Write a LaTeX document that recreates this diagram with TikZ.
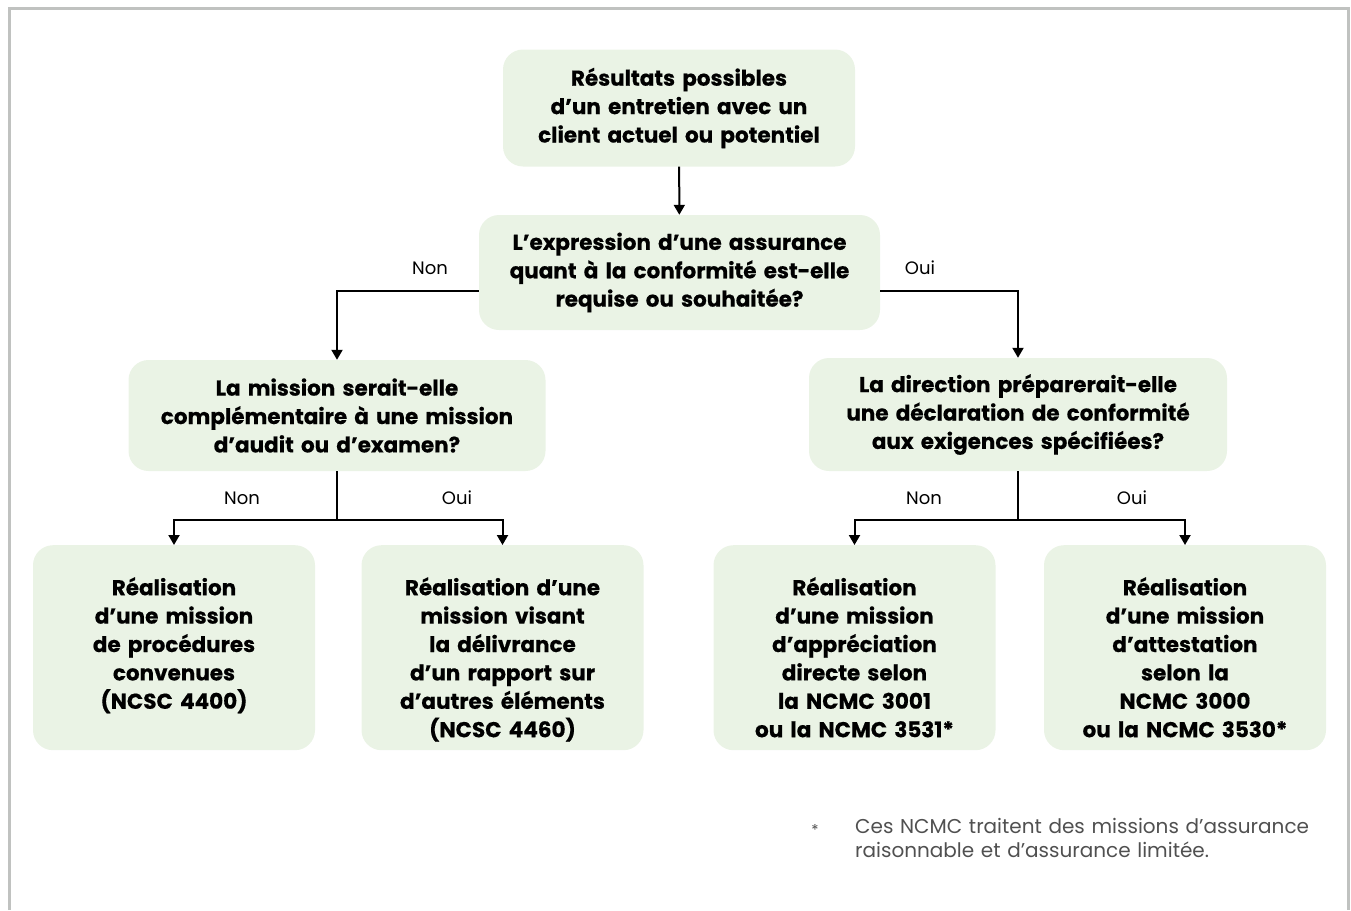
\documentclass[tikz,border=0pt]{standalone}
\usepackage{fontspec}
\setmainfont{Poppins}[BoldFeatures={FakeBold=0.5}]
\usetikzlibrary{arrows.meta,positioning}
\usepackage{xcolor}
\definecolor{boxGreen}{RGB}{234,243,229}
\definecolor{frameGrey}{RGB}{192,194,192}
\definecolor{noteGrey}{RGB}{80,80,80}

\begin{document}
\begin{tikzpicture}[x=1pt, y=-1pt,
    box/.style={fill=boxGreen, rounded corners=20pt, align=center, inner sep=0pt,
        font=\bfseries\fontsize{21.5}{28.4}\selectfont},
    leaf/.style={box, minimum width=282, text width=272, text height=50, text depth=155},
    arr/.style={line width=2pt, -{Triangle[width=11pt,length=10pt]}},
    lbl/.style={font=\fontsize{18}{20}\selectfont}]
    \newcommand\legy{290}
    \newcommand\fork{520}

    \useasboundingbox (0,0) rectangle (1351,910);
    % frame
    \draw[frameGrey, line width=3pt] (9.5,910) -- (9.5,8.5) -- (1348.5,8.5) -- (1348.5,910);

    \node[box, minimum width=352, minimum height=117, text width=345] (start) at (679,108)
        {Résultats possibles\\d’un entretien avec un\\client actuel ou potentiel};
    \node[box, minimum width=401, minimum height=115, text width=398] (quest) at (679.5,272.5)
        {L’expression d’une assurance\\quant à la conformité est-elle\\requise ou souhaitée?};
    \node[box, minimum width=417, minimum height=111, text width=412] (compl) at (337,415.5)
        {La mission serait-elle\\complémentaire à une mission\\d’audit ou d’examen?};
    \node[box, minimum width=418, minimum height=113, text width=412] (decl) at (1018,414.5)
        {La direction préparerait-elle\\une déclaration de conformité\\aux exigences spécifiées?};

    \node[leaf] (procs) at (174,545) [anchor=north]
        {Réalisation\\d’une mission\\de procédures\\convenues\\(NCSC 4400)};
    \node[leaf] (autres) at (502.5,545) [anchor=north]
        {Réalisation d’une\\mission visant\\la délivrance\\d’un rapport sur\\d’autres éléments\\(NCSC 4460)};
    \node[leaf] (directe) at (854.5,545) [anchor=north]
        {Réalisation\\d’une mission\\d’appréciation\\directe selon\\la NCMC 3001\\ou la NCMC 3531*};
    \node[leaf] (attest) at (1185,545) [anchor=north]
        {Réalisation\\d’une mission\\d’attestation\\selon la\\NCMC 3000\\ou la NCMC 3530*};

    % draw arrow
    \draw[arr] (start) -- (quest);
    \draw[arr] ([yshift=-18pt]quest.west) -| (compl.north);
    \draw[arr] ([yshift=-18pt]quest.east) -| (decl.north);
    \node[lbl] (nonA) at (430,268) {Non};
    \node[lbl] (ouiA) at (920,268) {Oui};

    \draw[line width=2pt] (compl.south) -- (compl.south |- 0,\fork) coordinate (cfork);
    \draw[arr] (cfork) -| (procs.north);
    \draw[arr] (cfork) -| (autres.north);
    \node[lbl] (nonB) at (242,498) {Non};
    \node[lbl] (ouiB) at (457,498) {Oui};

    \draw[line width=2pt] (decl.south) -- (decl.south |- 0,\fork) coordinate (dfork);
    \draw[arr] (dfork) -| (directe.north);
    \draw[arr] (dfork) -| (attest.north);
    \node[lbl] (nonC) at (924,498) {Non};
    \node[lbl] (ouiC) at (1132,498) {Oui};

    % footnote
    \node[lbl, text=noteGrey, anchor=north, font=\fontsize{15}{20}\selectfont] (star) at (815,821) {*};
    \node[lbl, text=noteGrey, anchor=north west, align=left, text width=490,
        font=\fontsize{20}{24}\selectfont, inner sep=0pt] (note) at (855,818)
        {Ces NCMC traitent des missions d’assurance\\raisonnable et d’assurance limitée.};
\end{tikzpicture}
\end{document}
